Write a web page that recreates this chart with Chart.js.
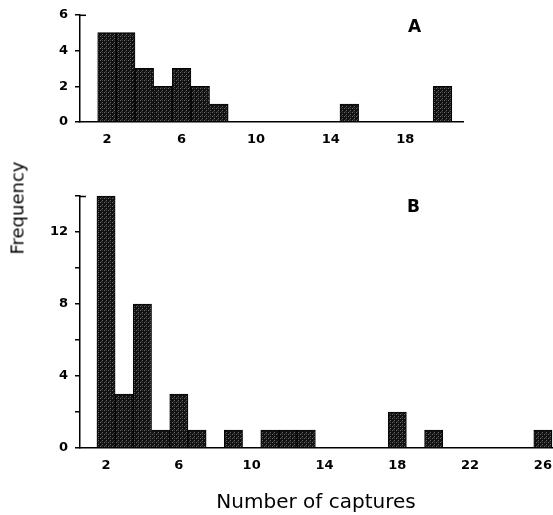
<!DOCTYPE html>
<html>
<head>
<meta charset="utf-8">
<script src="https://cdn.jsdelivr.net/npm/chart.js@4"></script>
<style>
  html, body { margin:0; padding:0; background:#fff; }
  #wrap { position:relative; width:553px; height:515px; overflow:hidden; font-family:"DejaVu Sans", sans-serif; color:#000; }
  canvas { position:absolute; left:0; }
  .lbl { position:absolute; font-weight:bold; font-size:17px; color:#000; }
  #ylab { position:absolute; left:17px; top:208px; transform:translate(-50%,-50%) rotate(-90deg); font-size:18px; white-space:nowrap; color:#000; }
</style>
</head>
<body>
<div id="wrap">
  <canvas id="cA" width="553" height="150" style="top:0"></canvas>
  <canvas id="cB" width="553" height="345" style="top:170px"></canvas>
  <div id="ylab">Frequency</div>
  <div class="lbl" style="left:408px; top:16px;">A</div>
  <div class="lbl" style="left:407px; top:196px;">B</div>
</div>
<script>
// Panel A data
const capturesA = [2, 3, 4, 5, 6, 7, 8, 15, 20];
const freqA     = [5, 5, 3, 2, 3, 2, 1, 1, 2];
const xTicksA   = [2, 6, 10, 14, 18];
const yTicksA   = [0, 2, 4, 6];

// Panel B data
const capturesB = [2, 3, 4, 5, 6, 7, 9, 11, 12, 13, 18, 20, 26];
const freqB     = [14, 3, 8, 1, 3, 1, 1, 1, 1, 1, 2, 1, 1];
const xTicksB   = [2, 6, 10, 14, 18, 22, 26];
const yTicksB   = [0, 2, 4, 6, 8, 10, 12, 14];
const yLabelsB  = [0, 4, 8, 12];

function makePattern() {
  const c = document.createElement('canvas');
  c.width = 4; c.height = 4;
  const g = c.getContext('2d');
  g.fillStyle = '#111';
  g.fillRect(0, 0, 4, 4);
  g.fillStyle = '#6a6a6a';
  g.fillRect(0, 0, 1, 1);
  g.fillRect(2, 2, 1, 1);
  g.fillStyle = '#3c3c3c';
  g.fillRect(2, 0, 1, 1);
  g.fillRect(1, 3, 1, 1);
  return g.createPattern(c, 'repeat');
}
const fillPat = makePattern();

const bracket = {
  id: 'bracket',
  afterDraw(chart) {
    const y = chart.scales.y;
    const ctx = chart.ctx;
    ctx.save();
    ctx.strokeStyle = '#000';
    ctx.lineWidth = 1.5;
    ctx.beginPath();
    ctx.moveTo(y.right, y.top + 0.5);
    ctx.lineTo(y.right + 6, y.top + 0.5);
    ctx.stroke();
    ctx.restore();
  }
};

const tickFont = { family: 'DejaVu Sans', size: 13, weight: 'bold' };

function makeChart(id, caps, freq, xTicks, yTicks, yLabels, xmin, xmax, ymax, padTop, padRight, xHeight, withTitle) {
  return new Chart(document.getElementById(id), {
    type: 'bar',
    data: {
      datasets: [{
        data: caps.map((c, i) => ({ x: c, y: freq[i] })),
        backgroundColor: fillPat,
        borderColor: '#000',
        borderWidth: 1,
        barPercentage: 1,
        categoryPercentage: 1,
        clip: false
      }]
    },
    plugins: [bracket],
    options: {
      responsive: false,
      animation: false,
      devicePixelRatio: 1,
      layout: { padding: { top: padTop, right: padRight, left: 0, bottom: 0 } },
      plugins: { legend: { display: false }, tooltip: { enabled: false } },
      scales: {
        x: {
          type: 'linear',
          offset: false,
          min: xmin, max: xmax,
          afterBuildTicks: s => { s.ticks = xTicks.map(v => ({ value: v })); },
          afterFit: s => { s.height = xHeight; s.paddingLeft = 0; s.paddingRight = 0; },
          grid: { display: false, offset: false },
          border: { display: true, color: '#000', width: 1.5 },
          ticks: { color: '#000', font: tickFont, padding: 2, maxRotation: 0, autoSkip: false },
          title: withTitle ? { display: true, text: 'Number of captures', color: '#000',
                   font: { family: 'DejaVu Sans', size: 20 }, padding: { top: 26, bottom: 0 } } : { display: false }
        },
        y: {
          min: 0, max: ymax,
          afterBuildTicks: s => { s.ticks = yTicks.map(v => ({ value: v })); },
          afterFit: s => { s.width = 80; },
          grid: { display: true, drawOnChartArea: false, drawTicks: true, tickLength: 5, color: '#000', lineWidth: 1.5 },
          border: { display: true, color: '#000', width: 1.5 },
          ticks: { color: '#000', font: tickFont, padding: 7,
                   callback: v => (yLabels.includes(v) ? String(v) : '') }
        }
      }
    }
  });
}

makeChart('cA', capturesA, freqA, xTicksA, yTicksA, yTicksA, 0.55, 21.1, 6, 14, 90, 28, false);
makeChart('cB', capturesB, freqB, xTicksB, yTicksB, yLabelsB, 0.57, 26.5, 14, 26, 1, 67, true);
</script>
</body>
</html>
